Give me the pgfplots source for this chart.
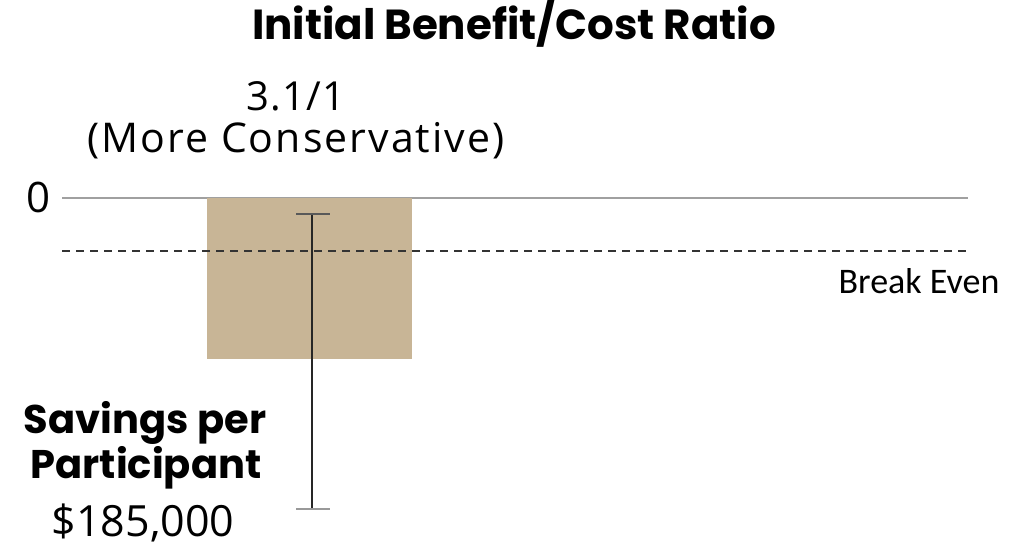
\documentclass[border=0pt]{standalone}
\usepackage{pgfplots}
\pgfplotsset{compat=1.18}
\usepackage{fontspec}
\setmainfont{Open Sans}
\newfontfamily\boldf{Poppins}
\newfontfamily\calib{Carlito}
\definecolor{bartan}{HTML}{C8B596}
\definecolor{zerogray}{HTML}{A0A0A0}
\begin{document}
\begin{tikzpicture}
\begin{axis}[
  at={(0,0)}, anchor=south west,
  scale only axis, width=1032pt, height=546pt,
  xmin=0, xmax=1032, ymin=-349, ymax=197,
  hide axis, clip=false,
]
\draw[draw=none] (rel axis cs:0,0) rectangle (rel axis cs:1,1);
% zero line
\addplot[zerogray, line width=2.5pt] coordinates {(62,0) (968,0)};
% bar
\addplot[ybar, bar width=205, fill=bartan, draw=none, bar shift=0pt] coordinates {(309.5,-161)};
% break even line
\addplot[black!80, line width=2pt, dash pattern=on 8pt off 6pt] coordinates {(62,-53) (968,-53)};
% error bar
\addplot[black!85, line width=2pt] coordinates {(312,-16) (312,-311)};
\addplot[black!65, line width=2.5pt] coordinates {(296,-16) (330,-16)};
\addplot[black!40, line width=2.5pt] coordinates {(296,-311) (330,-311)};
% texts
\node[anchor=base, font=\boldf\bfseries\fontsize{42}{44}\selectfont, inner sep=0pt] at (axis cs:514,158) {Initial Benefit/Cost Ratio};
\node[anchor=base, font=\addfontfeature{LetterSpace=3}\fontsize{40}{44}\selectfont, inner sep=0pt] at (axis cs:296,87) {3.1/1};
\node[anchor=base, font=\addfontfeature{LetterSpace=5}\fontsize{41}{44}\selectfont, inner sep=0pt] at (axis cs:296,45) {(More Conservative)};
\node[anchor=base east, font=\fontsize{42}{44}\selectfont, inner sep=0pt] at (axis cs:51,-15) {0};
\node[anchor=base, font=\calib\fontsize{36}{38}\selectfont, inner sep=0pt] at (axis cs:919,-96) {Break Even};
\node[anchor=base, font=\boldf\bfseries\fontsize{40}{44}\selectfont, inner sep=0pt] at (axis cs:145,-236) {Savings per};
\node[anchor=base, font=\boldf\bfseries\fontsize{40}{44}\selectfont, inner sep=0pt] at (axis cs:146,-281) {Participant};
\node[anchor=base, font=\fontsize{43}{44}\selectfont, inner sep=0pt] at (axis cs:143,-339) {\$185,000};
\end{axis}
\end{tikzpicture}
\end{document}
